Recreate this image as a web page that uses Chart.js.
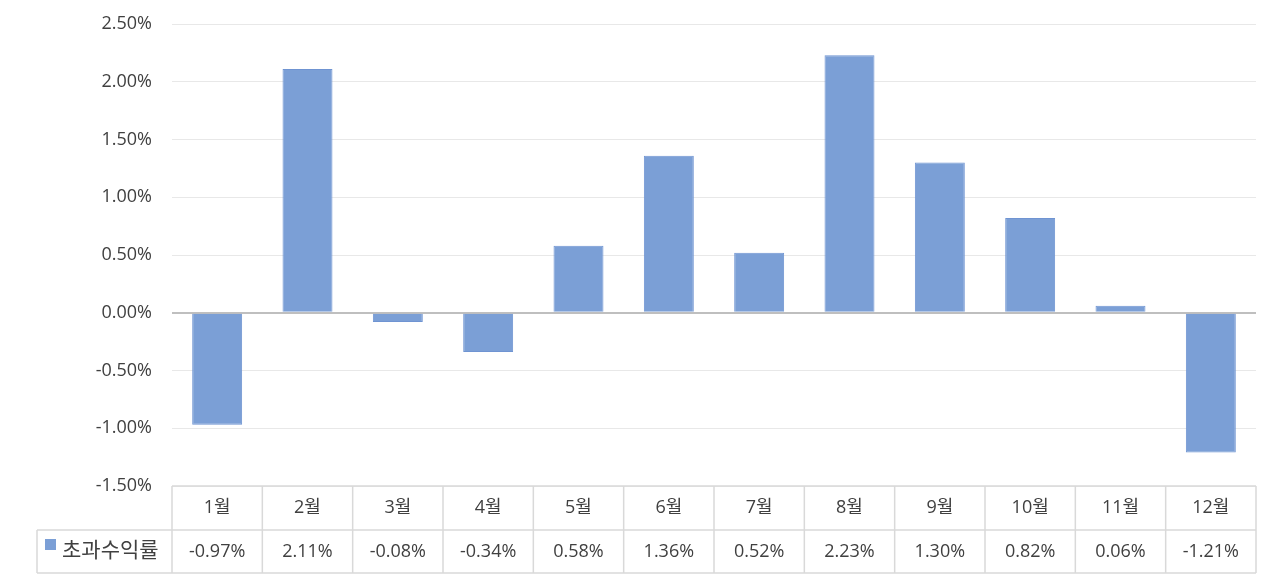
<!DOCTYPE html>
<html>
<head>
<meta charset="utf-8">
<script src="https://cdn.jsdelivr.net/npm/chart.js@4/dist/chart.umd.min.js"></script>
<style>
html,body{margin:0;padding:0;background:#fff;}
canvas{display:block;}
</style>
</head>
<body>
<canvas id="c" width="1280" height="583"></canvas>
<script>
const months = ['1월','2월','3월','4월','5월','6월','7월','8월','9월','10월','11월','12월'];
const excessReturn = [-0.97, 2.11, -0.08, -0.34, 0.58, 1.36, 0.52, 2.23, 1.30, 0.82, 0.06, -1.21];
const seriesName = '초과수익률';
const yMin = -1.5, yMax = 2.5, yStep = 0.5;

const FONT = '"Open Sans", "Noto Sans CJK KR", sans-serif';
const TEXT = '#404040';
const BAR = '#7b9fd6';
const LINE = '#d9d9d9';

const fmt = v => v.toFixed(2) + '%';

const tablePlugin = {
  id: 'dataTable',
  afterDraw(chart) {
    const ctx = chart.ctx;
    const x = chart.scales.x;
    const area = chart.chartArea;
    const n = months.length;
    const cw = (area.right - area.left) / n;
    const top = area.bottom;
    const mid = top + 44;
    const bot = top + 87;
    const legLeft = 37;
    ctx.save();
    ctx.strokeStyle = LINE;
    ctx.lineWidth = 1.5;
    ctx.beginPath();
    ctx.moveTo(area.left, top); ctx.lineTo(area.right, top);
    ctx.moveTo(legLeft, mid); ctx.lineTo(area.right, mid);
    ctx.moveTo(legLeft, bot); ctx.lineTo(area.right, bot);
    ctx.moveTo(legLeft, mid); ctx.lineTo(legLeft, bot);
    for (let i = 0; i <= n; i++) {
      const px = area.left + i * cw;
      ctx.moveTo(px, top); ctx.lineTo(px, bot);
    }
    ctx.stroke();

    ctx.fillStyle = TEXT;
    ctx.font = '18px ' + FONT;
    ctx.textAlign = 'center';
    ctx.textBaseline = 'middle';
    for (let i = 0; i < n; i++) {
      const cx = x.getPixelForValue(i);
      ctx.fillText(months[i], cx, (top + mid) / 2);
      ctx.fillText(fmt(excessReturn[i]), cx, (mid + bot) / 2);
    }
    ctx.fillStyle = BAR;
    ctx.fillRect(45, 539, 11, 11);
    ctx.fillStyle = TEXT;
    ctx.textAlign = 'left';
    ctx.font = '21px ' + FONT;
    ctx.fillText(seriesName, 62, (mid + bot) / 2);
    ctx.restore();
  }
};

new Chart(document.getElementById('c'), {
  type: 'bar',
  data: {
    labels: months,
    datasets: [{
      label: seriesName,
      data: excessReturn,
      backgroundColor: BAR,
      borderColor: '#6f94d2',
      borderWidth: 1,
      barPercentage: 1,
      categoryPercentage: 0.553
    }]
  },
  options: {
    responsive: false,
    animation: false,
    layout: { padding: { top: 24, right: 24, bottom: 97, left: 0 } },
    plugins: { legend: { display: false }, tooltip: { enabled: false } },
    scales: {
      x: {
        display: false,
        grid: { display: false }
      },
      y: {
        min: yMin,
        max: yMax,
        afterFit(s) { s.width = 172; s.paddingTop = 0; s.paddingBottom = 0; },
        border: { display: false },
        grid: {
          drawTicks: false,
          color: c => c.tick && c.tick.value === 0 ? '#bfbfbf' : '#e8e8e8',
          lineWidth: c => c.tick && c.tick.value === 0 ? 2 : 1
        },
        ticks: {
          stepSize: yStep,
          padding: 20,
          color: TEXT,
          font: { family: FONT, size: 18 },
          callback: v => fmt(v)
        }
      }
    }
  },
  plugins: [tablePlugin]
});
</script>
</body>
</html>
